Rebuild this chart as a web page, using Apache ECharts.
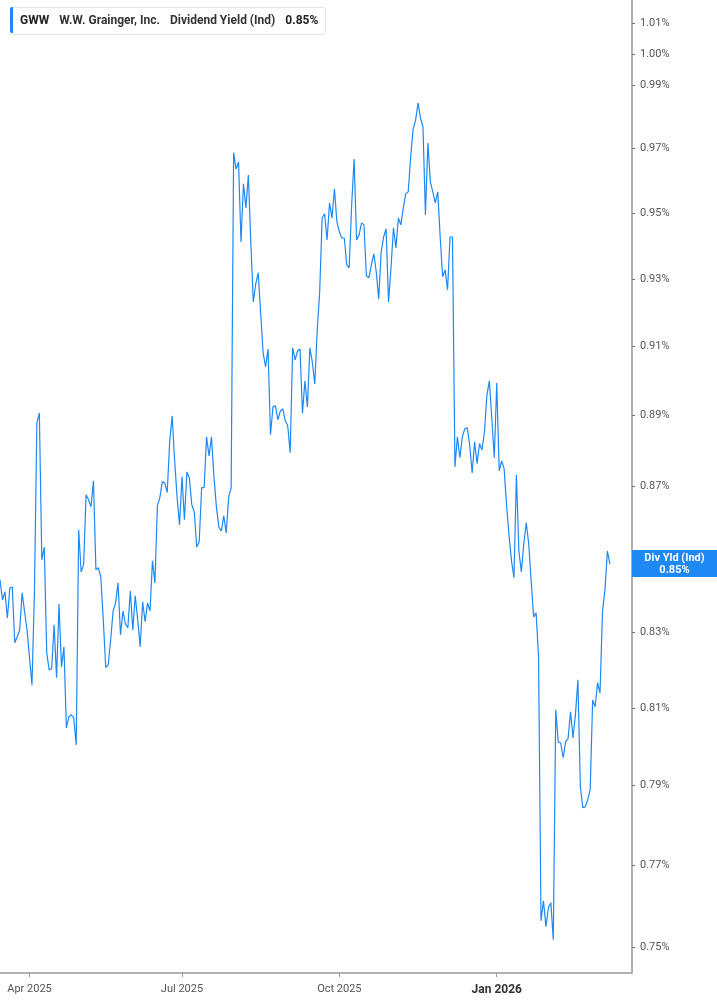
<!DOCTYPE html>
<html>
  <head>
    <meta charset="utf-8" />
    <title>GWW Dividend Yield</title>
    <script src="https://cdn.jsdelivr.net/npm/echarts@6/dist/echarts.min.js"></script>
    <style>
      html, body { margin: 0; padding: 0; background: #fff; }
    </style>
  </head>
  <body>
    <div id="main" style="width: 717px;height:1005px;"></div>
    <script type="text/javascript">
      // dividend yield (%) per trading day, from 2025-03-14
      var divYield = [
        0.8441, 0.8387, 0.8409, 0.8338, 0.8419, 0.8422, 0.8272, 0.8288, 0.8306, 0.8406, 0.8355, 0.8306,
        0.8232, 0.8160, 0.8406, 0.8879, 0.8907, 0.8496, 0.8531, 0.8245, 0.8200, 0.8203, 0.8320, 0.8179,
        0.8376, 0.8208, 0.8261, 0.8048, 0.8077, 0.8082, 0.8074, 0.8004, 0.8578, 0.8463,
        0.8482, 0.8676, 0.8662, 0.8642, 0.8715, 0.8469, 0.8474, 0.8449, 0.8333, 0.8206, 0.8213, 0.8280,
        0.8357, 0.8379, 0.8433, 0.8293, 0.8357, 0.8322, 0.8312, 0.8411, 0.8306, 0.8398, 0.8333, 0.8261,
        0.8382, 0.8328, 0.8379, 0.8357, 0.8493, 0.8433, 0.8645, 0.8668,
        0.8712, 0.8709, 0.8682, 0.8825, 0.8899, 0.8774, 0.8670, 0.8592, 0.8726, 0.8606, 0.8740, 0.8723,
        0.8648, 0.8628, 0.8531, 0.8545, 0.8696, 0.8696, 0.8839, 0.8785, 0.8839, 0.8726, 0.8642, 0.8586,
        0.8575, 0.8617, 0.8570, 0.8670, 0.8696, 0.9686, 0.9636, 0.9658,
        0.9412, 0.9590, 0.9516, 0.9617, 0.9409, 0.9232, 0.9286, 0.9319, 0.9199, 0.9081, 0.9041, 0.9093,
        0.8845, 0.8925, 0.8928, 0.8888, 0.8913, 0.8919, 0.8885, 0.8871, 0.8794, 0.9096, 0.9061, 0.9087,
        0.9093, 0.8907, 0.9000, 0.8925, 0.9096, 0.9055, 0.8991, 0.9149, 0.9262,
        0.9485, 0.9498, 0.9418, 0.9531, 0.9485, 0.9574, 0.9473, 0.9443, 0.9424, 0.9424, 0.9343, 0.9334,
        0.9525, 0.9667, 0.9418, 0.9433, 0.9470, 0.9464, 0.9310, 0.9304, 0.9343, 0.9376, 0.9322, 0.9241,
        0.9382, 0.9427, 0.9452, 0.9232, 0.9334, 0.9455, 0.9394, 0.9485,
        0.9464, 0.9516, 0.9559, 0.9565, 0.9673, 0.9761, 0.9789, 0.9843, 0.9795, 0.9767, 0.9494, 0.9717,
        0.9596, 0.9565, 0.9531, 0.9565, 0.9427, 0.9307, 0.9328, 0.9268, 0.9427, 0.9427, 0.8754, 0.8839,
        0.8780, 0.8839, 0.8862, 0.8865, 0.8816, 0.8737, 0.8825,
        0.8763, 0.8820, 0.8802, 0.8853, 0.8959, 0.9000, 0.8890, 0.8780, 0.8994, 0.8743, 0.8771, 0.8749,
        0.8645, 0.8562, 0.8493, 0.8447, 0.8732, 0.8520, 0.8463, 0.8540, 0.8598, 0.8540, 0.8438, 0.8341,
        0.8352, 0.8234, 0.7563, 0.7612, 0.7549, 0.7595, 0.7607, 0.7517,
        0.8095, 0.8012, 0.8009, 0.7971, 0.8012, 0.8020, 0.8090, 0.8022, 0.8082, 0.8174, 0.7897, 0.7844,
        0.7846, 0.7864, 0.7889, 0.8121, 0.8103, 0.8166, 0.8139, 0.8355, 0.8414, 0.8520, 0.8485
      ];

      // right axis tick labels (%), 0.85 sits under the last value tag
      var yTicks = [0.75, 0.77, 0.79, 0.81, 0.83, 0.87, 0.89, 0.91, 0.93, 0.95, 0.97, 0.99, 1.00, 1.01];
      var yMin = 0.7437, yMax = 1.0175;

      // x axis: trading days, labels at first session of each quarter month
      var startDate = '2025-03-14';
      var totalDays = 258;
      var holidays = ['2025-04-18', '2025-05-26', '2025-06-19', '2025-07-04', '2025-09-01',
                      '2025-11-27', '2025-12-25', '2026-01-01', '2026-01-19', '2026-02-16'];
      var labelMonths = [0, 3, 6, 9];
      var monthNames = ['Jan', 'Feb', 'Mar', 'Apr', 'May', 'Jun', 'Jul', 'Aug', 'Sep', 'Oct', 'Nov', 'Dec'];

      var days = [];
      var d = new Date(startDate + 'T00:00:00Z');
      while (days.length < totalDays) {
        var key = d.toISOString().slice(0, 10);
        var dow = d.getUTCDay();
        if (dow !== 0 && dow !== 6 && holidays.indexOf(key) < 0) days.push(key);
        d.setUTCDate(d.getUTCDate() + 1);
      }
      var labelDays = {};
      for (var i = 1; i < days.length; i++) {
        var m = +days[i].slice(5, 7) - 1;
        var pm = +days[i - 1].slice(5, 7) - 1;
        if (m !== pm && labelMonths.indexOf(m) >= 0) {
          labelDays[days[i]] = monthNames[m] + ' ' + days[i].slice(0, 4);
        }
      }

      var lineColor = '#1e88f5';
      var last = divYield[divYield.length - 1];

      var myChart = echarts.init(document.getElementById('main'));

      var option = {
        animation: false,
        backgroundColor: '#fff',
        title: {
          left: 10,
          top: 7,
          text: '{b|GWW}  {m|W.W. Grainger, Inc.}  {n|Dividend Yield (Ind)}  {b|' + last.toFixed(2) + '%}',
          backgroundColor: '#fff',
          borderColor: '#e4e4e4',
          borderWidth: 1,
          borderRadius: 3,
          padding: [5, 7, 5, 10],
          textStyle: {
            rich: {
              b: { fontFamily: 'Roboto', fontSize: 12, fontWeight: 'bold', color: '#222' },
              m: { fontFamily: 'Roboto', fontSize: 12, fontWeight: 'bold', color: '#333' },
              n: { fontFamily: 'Roboto', fontSize: 12, color: '#333' }
            }
          }
        },
        graphic: [{
          type: 'rect',
          left: 10,
          top: 7,
          z: 100,
          shape: { width: 3, height: 26, r: [2, 0, 0, 2] },
          style: { fill: lineColor }
        }],
        grid: { left: 0, right: 85, top: 0, bottom: 32 },
        xAxis: {
          type: 'category',
          boundaryGap: false,
          data: days,
          axisLine: { onZero: false, lineStyle: { color: '#b0b0b0', width: 2 } },
          axisTick: {
            length: 4,
            lineStyle: { color: '#999' },
            interval: function (idx, val) { return !!labelDays[val]; }
          },
          axisLabel: {
            margin: 11,
            interval: function (idx, val) { return !!labelDays[val]; },
            formatter: function (val) {
              var t = labelDays[val] || '';
              return t.indexOf('Jan') === 0 ? '{j|' + t + '}' : t;
            },
            color: '#555',
            fontFamily: 'Roboto',
            fontSize: 11,
            rich: {
              j: { fontFamily: 'Roboto', fontSize: 12, fontWeight: 'bold', color: '#333' }
            }
          },
          splitLine: { show: false }
        },
        yAxis: {
          type: 'value',
          position: 'right',
          min: Math.log(yMin),
          max: Math.log(yMax),
          axisLine: { show: true, onZero: false, lineStyle: { color: '#b0b0b0', width: 2 } },
          axisTick: {
            show: true,
            length: 3,
            customValues: yTicks.map(function (v) { return Math.log(v); }),
            lineStyle: { color: '#777' }
          },
          axisLabel: {
            margin: 8,
            customValues: yTicks.map(function (v) { return Math.log(v); }),
            formatter: function (v) { return Math.exp(v).toFixed(2) + '%'; },
            color: '#555',
            fontFamily: 'Roboto',
            fontSize: 11
          },
          splitLine: { show: false }
        },
        series: [{
          type: 'line',
          data: divYield.map(function (v) { return Math.log(v); }),
          showSymbol: false,
          lineStyle: { color: lineColor, width: 1.2 },
          markLine: {
            silent: true,
            symbol: 'none',
            lineStyle: { color: 'rgba(0,0,0,0)', width: 0, opacity: 1 },
            data: [{ yAxis: Math.log(last) }],
            label: {
              show: true,
              position: 'end',
              distance: 0,
              offset: [0, 13],
              backgroundColor: lineColor,
              padding: [2, 0, 1, 0],
              formatter: '{t|Div Yld (Ind)}\n{t|' + last.toFixed(2) + '%}',
              rich: {
                t: {
                  width: 85,
                  align: 'center',
                  color: '#fff',
                  fontFamily: 'Roboto',
                  fontSize: 11,
                  fontWeight: 'bold',
                  lineHeight: 12
                }
              }
            }
          }
        }]
      };

      myChart.setOption(option);
    </script>
  </body>
</html>
